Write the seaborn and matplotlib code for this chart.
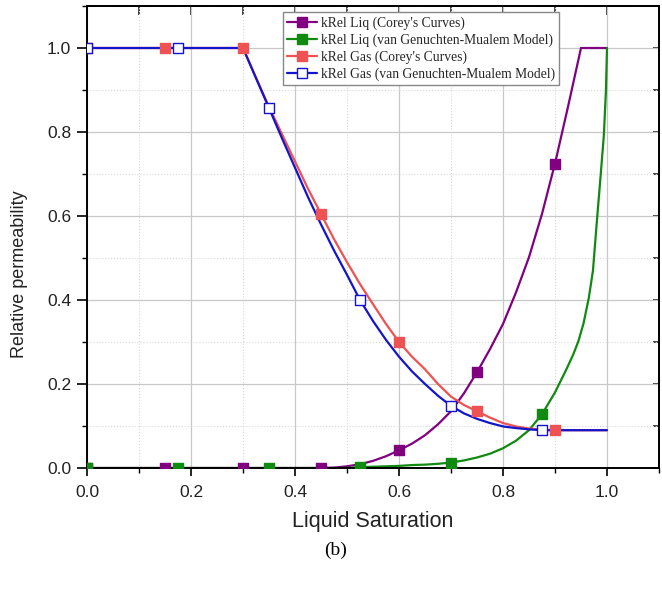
import numpy as np
import pandas as pd
import matplotlib
matplotlib.use("Agg")
import matplotlib.pyplot as plt
from matplotlib.lines import Line2D
from matplotlib.ticker import MultipleLocator
import seaborn as sns

# --- curves ---
liq_corey_x = [0.0, 0.45, 0.475, 0.5, 0.525, 0.55, 0.575, 0.6, 0.625, 0.65, 0.675, 0.7, 0.725,
               0.75, 0.775, 0.8, 0.825, 0.85, 0.875, 0.9, 0.925, 0.95, 1.0]
liq_corey_y = [0.0, 0.0, 0.001, 0.004, 0.009, 0.017, 0.028, 0.042, 0.058, 0.078, 0.104, 0.135,
               0.178, 0.228, 0.283, 0.343, 0.418, 0.502, 0.605, 0.725, 0.86, 1.0, 1.0]

liq_vg_x = [0.0, 0.5, 0.525, 0.55, 0.575, 0.6, 0.625, 0.65, 0.675, 0.7, 0.725, 0.75, 0.775, 0.8,
            0.825, 0.85, 0.875, 0.9, 0.92, 0.935, 0.945, 0.955, 0.965, 0.973, 0.981, 0.988,
            0.994, 0.998, 1.0]
liq_vg_y = [0.0, 0.0, 0.002, 0.003, 0.004, 0.005, 0.007, 0.008, 0.010, 0.013, 0.018, 0.025,
            0.034, 0.047, 0.065, 0.09, 0.128, 0.18, 0.23, 0.27, 0.302, 0.345, 0.405, 0.47,
            0.595, 0.70, 0.793, 0.9, 1.0]

gas_corey_x = [0.0, 0.3, 0.325, 0.35, 0.375, 0.4, 0.425, 0.45, 0.475, 0.5, 0.525, 0.55, 0.575,
               0.6, 0.625, 0.65, 0.675, 0.7, 0.725, 0.75, 0.775, 0.8, 0.825, 0.85, 0.875, 0.9,
               1.0]
gas_corey_y = [1.0, 1.0, 0.93, 0.86, 0.795, 0.73, 0.665, 0.605, 0.545, 0.49, 0.438, 0.39, 0.343,
               0.30, 0.265, 0.235, 0.20, 0.17, 0.15, 0.135, 0.12, 0.107, 0.099, 0.094, 0.091,
               0.09, 0.09]

gas_vg_x = [0.0, 0.3, 0.325, 0.35, 0.375, 0.4, 0.425, 0.45, 0.475, 0.5, 0.525, 0.55, 0.575, 0.6,
            0.625, 0.65, 0.675, 0.7, 0.725, 0.75, 0.775, 0.8, 0.825, 0.85, 0.875, 1.0]
gas_vg_y = [1.0, 1.0, 0.928, 0.857, 0.785, 0.715, 0.645, 0.58, 0.518, 0.46, 0.40, 0.35, 0.305,
            0.265, 0.23, 0.2, 0.172, 0.148, 0.13, 0.117, 0.107, 0.099, 0.095, 0.092, 0.09, 0.09]

# --- symbols ---
corey_mx = [0.0, 0.15, 0.3, 0.45, 0.6, 0.75, 0.9]
liq_corey_my = [0.0, 0.0, 0.0, 0.0, 0.042, 0.228, 0.725]
gas_corey_my = [1.0, 1.0, 1.0, 0.605, 0.30, 0.135, 0.09]

vg_mx = [0.0, 0.175, 0.35, 0.525, 0.7, 0.875]
liq_vg_my = [0.0, 0.0, 0.0, 0.002, 0.013, 0.128]
gas_vg_my = [1.0, 1.0, 0.857, 0.40, 0.148, 0.09]

labels = ["kRel Liq (Corey's Curves)",
          "kRel Liq (van Genuchten-Mualem Model)",
          "kRel Gas (Corey's Curves)",
          "kRel Gas (van Genuchten-Mualem Model)"]
colors = ["#800080", "#108A10", "#EE5252", "#1414CC"]

sns.set_theme(style="white")
plt.rcParams["font.family"] = ["Liberation Sans", "DejaVu Sans"]

fig = plt.figure(figsize=(6.62, 5.89), dpi=100)
ax = fig.add_axes([87 / 662, 1 - 468 / 589, 572 / 662, 462 / 589])

series = [
    (liq_corey_x, liq_corey_y, corey_mx, liq_corey_my, True),
    (liq_vg_x, liq_vg_y, vg_mx, liq_vg_my, True),
    (gas_corey_x, gas_corey_y, corey_mx, gas_corey_my, True),
    (gas_vg_x, gas_vg_y, vg_mx, gas_vg_my, False),
]

handles = []
for (cx, cy, mx, my, filled), lab, col in zip(series, labels, colors):
    sns.lineplot(x=cx, y=cy, ax=ax, color=col, lw=1.6, sort=False,
                 estimator=None, legend=False)
    face = col if filled else "white"
    sns.scatterplot(x=mx, y=my, ax=ax, marker="s", s=42, color=face,
                    edgecolor=col, linewidth=1.0, legend=False, zorder=3)
    handles.append(Line2D([], [], color=col, lw=1.6, marker="s", markersize=6.5,
                          markerfacecolor=face, markeredgecolor=col,
                          markeredgewidth=1.0))

ax.set_xlim(0, 1.1)
ax.set_ylim(0, 1.1)
ax.xaxis.set_minor_locator(MultipleLocator(0.1))
ax.yaxis.set_minor_locator(MultipleLocator(0.1))
ax.set_xticks([0, 0.2, 0.4, 0.6, 0.8, 1.0])
ax.set_yticks([0, 0.2, 0.4, 0.6, 0.8, 1.0])

ax.grid(which="major", color="#c8c8c8", lw=0.9, ls="-")
ax.grid(which="minor", color="#d8d8d8", lw=0.8, ls=":")
ax.set_axisbelow(True)

for sp in ax.spines.values():
    sp.set_color("black")
    sp.set_linewidth(1.4)

ax.tick_params(which="major", direction="out", length=7, width=1.2, colors="black",
               labelsize=12.5, labelcolor="#222222", bottom=True, left=True)
ax.tick_params(which="minor", direction="out", length=3.6, width=1.0, colors="black",
               bottom=True, left=True)
ax.tick_params(axis="x", which="major", length=6, pad=6.5)
ax.tick_params(axis="y", which="major", pad=4.3)

# inward ticks on the top and right frame
ax_t = ax.secondary_xaxis("top")
ax_t.xaxis.set_major_locator(MultipleLocator(0.1))
ax_t.tick_params(direction="in", length=6.5, width=1.2, labeltop=False)
ax_r = ax.secondary_yaxis("right")
ax_r.yaxis.set_major_locator(MultipleLocator(0.1))
ax_r.tick_params(direction="in", length=4.5, width=1.2, labelright=False)

ax.set_xlabel("Liquid Saturation", fontsize=15.5, color="#222222", labelpad=8)
ax.set_ylabel("Relative permeability", fontsize=13, color="#222222")
ax.yaxis.set_label_coords(-0.104, 0.42)

leg = ax.legend(handles, labels, loc="upper left", bbox_to_anchor=(283 / 662, 1 - 12 / 589),
                bbox_transform=fig.transFigure, prop={"family": "Liberation Serif", "size": 9.8},
                frameon=True, fancybox=False, framealpha=1, edgecolor="#888888",
                handlelength=2.2, handletextpad=0.3, labelspacing=0.26,
                borderpad=0.3, borderaxespad=0)
leg.get_frame().set_linewidth(1.0)

fig.text(0.507, 0.066, "(b)", ha="center", va="center", fontsize=14,
         family="Liberation Serif", color="black")

fig.savefig("out.png", dpi=100)
